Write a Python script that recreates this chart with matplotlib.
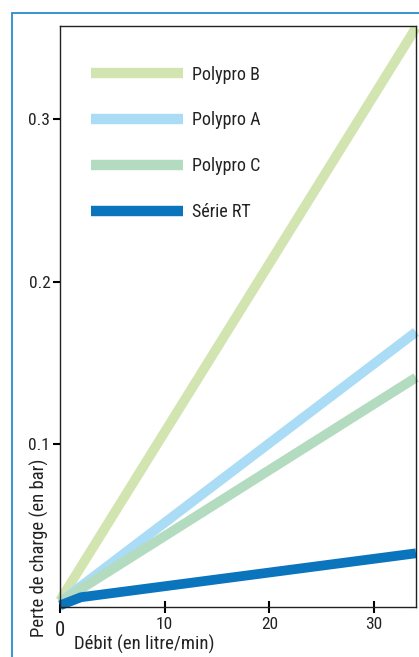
import matplotlib.pyplot as plt
from matplotlib.patches import Rectangle

# donnees
debit = [0, 34]
polypro_b = [0.004, 0.356]
polypro_a = [0.003, 0.169]
polypro_c = [0.003, 0.141]
debit_rt = [0, 2, 34]
serie_rt = [0.001, 0.006, 0.033]

noms = ['Polypro B', 'Polypro A', 'Polypro C', 'Série RT']
couleurs = ['#d2e5b1', '#abdcf6', '#b3dbbf', '#0a74bd']
xticks = [0, 10, 20, 30]
yticks = [0.1, 0.2, 0.3]

plt.rcParams['font.family'] = ['Roboto Condensed', 'DejaVu Sans']
plt.rcParams['text.color'] = '#222222'

fig = plt.figure(figsize=(4.19, 6.57), dpi=100)
ax = fig.add_axes([60 / 419, 50 / 657, 356 / 419, 581 / 657])

# cadre bleu autour
fig.patches.append(Rectangle((12 / 419, -0.05), 1.1, 1 - 13 / 657 + 0.05,
                             transform=fig.transFigure, fill=False,
                             edgecolor='#2a8ad0', linewidth=1.3))

lw = 7
ax.plot(debit, polypro_b, color=couleurs[0], lw=lw, label=noms[0], solid_capstyle='butt', clip_on=False)
ax.plot(debit, polypro_a, color=couleurs[1], lw=lw, label=noms[1], solid_capstyle='butt', clip_on=False)
ax.plot(debit, polypro_c, color=couleurs[2], lw=lw, label=noms[2], solid_capstyle='butt', clip_on=False)
ax.plot(debit_rt, serie_rt, color=couleurs[3], lw=lw, label=noms[3], solid_capstyle='butt', clip_on=False)

ax.set_xlim(0, 34)
ax.set_ylim(0, 0.357)
ax.set_xticks(xticks)
ax.set_xticklabels(['', '10', '20', '30'], fontsize=12.5, color='#222222')
ax.set_yticks(yticks)
ax.set_yticklabels(['0.1', '0.2', '0.3'], fontsize=12.5, color='#222222')
ax.tick_params(axis='x', direction='inout', length=8, width=1.5, pad=3)
ax.tick_params(axis='y', direction='out', length=5, width=1.5, pad=2)
for s in ax.spines.values():
    s.set_linewidth(1.0)
    s.set_color('#222222')

fig.text(60 / 419, 1 - 630 / 657, '0', fontsize=15, ha='center', va='center')
fig.text(74 / 419, 1 - 644 / 657, 'Débit (en litre/min)', fontsize=13.5, ha='left', va='center')
fig.text(39 / 419, 1 - 548 / 657, 'Perte de charge (en bar)', fontsize=13.5,
         rotation=90, ha='center', va='center')

leg = ax.legend(loc='upper left', bbox_to_anchor=(0.088, 0.932), frameon=False,
                fontsize=13, handlelength=5.1, handletextpad=0.45,
                labelspacing=1.55, borderpad=0, borderaxespad=0)
for h in leg.get_lines():
    h.set_linewidth(7.5)

fig.savefig('out.png', dpi=100)
